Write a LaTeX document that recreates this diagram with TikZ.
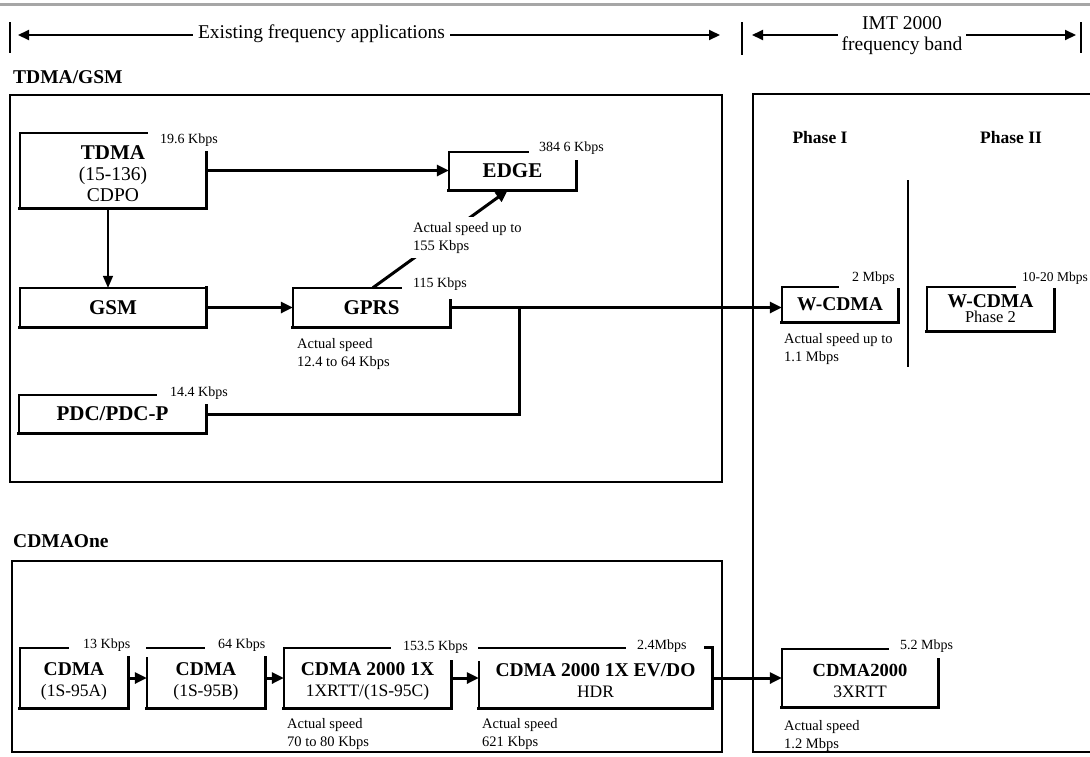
\documentclass[tikz,border=0pt]{standalone}
\usepackage{fontspec}
\setmainfont{Liberation Serif}
\usetikzlibrary{arrows.meta,calc}
\newcommand\ttl[2][21]{{\bfseries\fontsize{#1}{#1}\selectfont #2}}
\newcommand\lowr[1]{\rule{0pt}{#1}}
\newcommand\brokenbox[4]{%
  \draw[edgethin] ([xshift=#2]#1.north west) -- (#1.north west);
  \draw[edgethin] ([yshift=-#4]#1.north west) -- (#1.south west);
  \draw[edgethick] ([yshift=-#3]#1.north east) -- (#1.south east) -- (#1.south west);
}
\tikzset{
  outer/.style={line width=2.4pt},
  edgethin/.style={line width=2.2pt, line cap=rect},
  edgethick/.style={line width=3pt, line cap=rect},
  boxn/.style={inner sep=0pt, align=center, font=\fontsize{19.5}{21}\selectfont},
  cbox/.style={boxn, font=\fontsize{17.5}{21}\selectfont},
  rate/.style={font=\fontsize{14}{17}\selectfont, anchor=base west, inner sep=0pt},
  note/.style={font=\fontsize{14.5}{18}\selectfont, align=left, anchor=north west, inner sep=0pt},
  headtxt/.style={font=\bfseries\fontsize{19.5}{21}\selectfont, anchor=base west, inner sep=0pt},
  toptxt/.style={font=\fontsize{19.5}{20.5}\selectfont, align=center, fill=white, inner xsep=5pt, inner ysep=1pt},
  toparrow/.style={line width=2pt, {Triangle[length=11pt,width=10pt]}-{Triangle[length=11pt,width=10pt]}},
  bar/.style={line width=2pt},
  thickarrow/.style={line width=3pt, -{Triangle[length=12pt,width=11pt]}},
  thinarrow/.style={line width=1.5pt, -{Triangle[length=12pt,width=10pt]}},
  plainline/.style={line width=3pt},
}
\begin{document}
\begin{tikzpicture}[x=1pt,y=-1pt]
\useasboundingbox (0,0) rectangle (1090,756);
% top rule
\draw[gray!70, line width=2.5pt] (0,4.5) -- (1090,4.5);
% top dimension arrows
\coordinate (b1t) at (10,22); \coordinate (b1b) at (10,53);
\coordinate (b2t) at (742,22); \coordinate (b2b) at (742,55);
\coordinate (b3t) at (1081,22); \coordinate (b3b) at (1081,53);
\draw[bar] (b1t) -- (b1b);
\draw[bar] (b2t) -- (b2b);
\draw[bar] (b3t) -- (b3b);
\coordinate (ea) at (18,35); \coordinate (eb) at (720,35);
\coordinate (ia) at (752,35); \coordinate (ib) at (1076,35);
\draw[toparrow] (ea) -- (eb);
\draw[toparrow] (ia) -- (ib);
\node[toptxt] (exist) at (321.5,34) {Existing frequency applications};
\node[toptxt, inner xsep=4pt] (imt) at (902,35.5) {IMT 2000\\frequency band};
% group headings
\node[headtxt] (hgsm) at (13,83.5) {TDMA/GSM};
\node[headtxt] (hcdma) at (13,547.5) {CDMAOne};
% outer frames
\draw[outer] (10,95) rectangle (722,482);
\draw[outer] (12,561) rectangle (722,752);
\draw[outer] (1093,94) -- (753,94) -- (753,752) -- (1093,752);
\node[font=\bfseries\fontsize{17.5}{20}\selectfont] (ph1) at (820,138) {Phase I};
\node[font=\bfseries\fontsize{17.5}{20}\selectfont] (ph2) at (1011,138) {Phase II};
\draw[line width=2.5pt] (908,180) -- (908,367);
% TDMA/GSM boxes
\node[boxn, minimum width=186pt, minimum height=75pt] (tdma) at (113,170.5) {\lowr{20pt}\ttl{TDMA}\\(15-136)\\CDPO};
\brokenbox{tdma}{127pt}{20pt}{0pt}
\node[rate] (rtdma) at (160,143.5) {19.6 Kbps};
\node[boxn, minimum width=127pt, minimum height=38pt] (edgeb) at (512.5,171) {\ttl{EDGE}};
\brokenbox{edgeb}{79pt}{10pt}{0pt}
\node[rate] (redge) at (539,151.5) {384 6 Kbps};
\node[boxn, minimum width=186pt, minimum height=39pt] (gsm) at (113,307.5) {\ttl{GSM}};
\brokenbox{gsm}{186pt}{0pt}{0pt}
\node[boxn, minimum width=157pt, minimum height=39pt] (gprs) at (371.5,307.5) {\ttl{GPRS}};
\brokenbox{gprs}{108pt}{13pt}{0pt}
\node[rate] (rgprs) at (413,287.5) {115 Kbps};
\node[boxn, minimum width=187pt, minimum height=38pt] (pdc) at (112.5,414) {\ttl{PDC/PDC-P}};
\brokenbox{pdc}{137pt}{11pt}{0pt}
\node[rate] (rpdc) at (170,396.5) {14.4 Kbps};
% IMT boxes
\node[boxn, minimum width=116pt, minimum height=35pt] (wcdma) at (840,304.5) {\ttl[19.5]{W-CDMA}};
\brokenbox{wcdma}{56pt}{3pt}{0pt}
\node[rate] (rwcdma) at (852,281.5) {2 Mbps};
\node[boxn, minimum width=127pt, minimum height=44pt] (wcdmab) at (990.5,309) {\ttl[19.5]{W-CDMA}\\[-6pt]{\fontsize{16.5}{16.5}\selectfont Phase 2}};
\brokenbox{wcdmab}{88pt}{3pt}{0pt}
\node[rate, font=\fontsize{13.5}{16}\selectfont] (rwcdmab) at (1022,281.5) {10-20 Mbps};
% CDMAOne boxes
\node[cbox, minimum width=108pt, minimum height=60pt] (cdmaa) at (74,678) {\lowr{19pt}\ttl[19.5]{CDMA}\\(1S-95A)};
\brokenbox{cdmaa}{48pt}{10pt}{0pt}
\node[rate] (rcdmaa) at (83,648.5) {13 Kbps};
\node[cbox, minimum width=118pt, minimum height=60pt] (cdmab) at (206,678) {\lowr{19pt}\ttl[19.5]{CDMA}\\(1S-95B)};
\brokenbox{cdmab}{57pt}{10pt}{10pt}
\node[rate] (rcdmab) at (218,648.5) {64 Kbps};
\node[cbox, minimum width=167pt, minimum height=60pt] (cdmax) at (367.5,678) {\lowr{19pt}\ttl[19.5]{CDMA 2000 1X}\\1XRTT/(1S-95C)};
\brokenbox{cdmax}{106pt}{14pt}{0pt}
\node[rate] (rcdmax) at (403,650.5) {153.5 Kbps};
\node[cbox, minimum width=233pt, minimum height=60pt] (evdo) at (595.5,678) {\lowr{19pt}\ttl[19.5]{CDMA 2000 1X EV/DO}\\HDR};
\draw[edgethin] ([xshift=146pt]evdo.north west) -- (evdo.north west);
\draw[edgethin] ([yshift=-14pt]evdo.north west) -- (evdo.south west);
\draw[edgethick] ([xshift=-7pt]evdo.north east) -- (evdo.north east) -- (evdo.south east) -- (evdo.south west);
\node[rate] (revdo) at (637,649.5) {2.4Mbps};
\node[cbox, minimum width=156pt, minimum height=58pt] (cdmath) at (860,678) {\lowr{19pt}\ttl[18.5]{CDMA2000}\\3XRTT};
\brokenbox{cdmath}{106pt}{11pt}{0pt}
\node[rate] (rcdmath) at (900,649.5) {5.2 Mbps};
% connectors
\draw[thickarrow] (tdma.east) -- (tdma.east -| edgeb.west);
\draw[thinarrow] ([xshift=-5pt]tdma.south) -- ([xshift=-5pt]gsm.north);
\draw[thickarrow] (gsm.east) -- (gprs.west);
\coordinate (jn) at (519,307.5);
\draw[thickarrow] (gprs.east) -- (gprs.east -| wcdma.west);
\draw[plainline] (pdc.east) -| (jn);
\draw[thickarrow] ([xshift=80pt]gprs.north west) -- ([xshift=59pt]edgeb.south west);
\draw[thickarrow] (cdmaa.east) -- (cdmab.west);
\draw[thickarrow] (cdmab.east) -- (cdmax.west);
\draw[thickarrow] (cdmax.east) -- (evdo.west);
\draw[thickarrow] (evdo.east) -- (cdmath.west);
% notes
\node[note, fill=white, inner sep=5pt] (nedge) at (408,217) {Actual speed up to\\155 Kbps};
\node[note] (ngprs) at (297,338) {Actual speed\\12.4 to 64 Kbps};
\node[note] (nwcdma) at (784,333) {Actual speed up to\\1.1 Mbps};
\node[note] (ncdmax) at (287,718) {Actual speed\\70 to 80 Kbps};
\node[note] (nevdo) at (482,718) {Actual speed\\621 Kbps};
\node[note] (ncdmath) at (784,720) {Actual speed\\1.2 Mbps};
\end{tikzpicture}
\end{document}
